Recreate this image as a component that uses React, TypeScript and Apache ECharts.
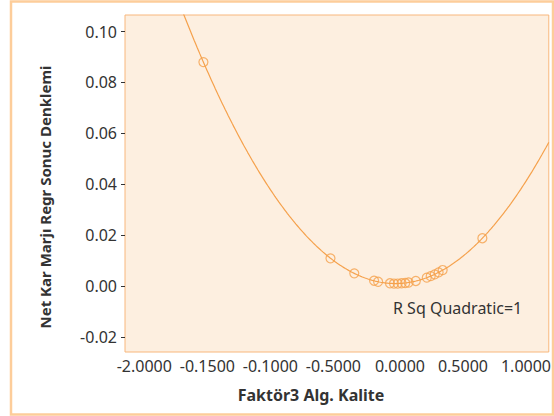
import React, { useEffect, useRef } from "react";
import * as echarts from "echarts";

// Scatter points
const factorX = [
  -1.559, -0.551, -0.362, -0.205, -0.173, -0.079, -0.047, -0.018, 0.013,
  0.042, 0.069, 0.126, 0.213, 0.244, 0.276, 0.307, 0.339, 0.654,
];
const netKarY = [
  0.088, 0.0109, 0.005, 0.0021, 0.0017, 0.0011, 0.001, 0.001, 0.0011,
  0.0012, 0.0014, 0.002, 0.0033, 0.0039, 0.0046, 0.0054, 0.0063, 0.0188,
];

const xTickValues = [-2, -1.5, -1, -0.5, 0, 0.5, 1];
const xTickLabels = ["-2.0000", "-0.1500", "-0.1000", "-0.5000", "0.0000", "0.5000", "1.0000"];

const X_MIN = -2.181;
const X_MAX = 1.181;
const Y_MIN = -0.0259;
const Y_MAX = 0.1065;

const fitText = "R Sq Quadratic=1";
const xTitle = "Faktör3 Alg. Kalite";
const yTitle = "Net Kar Marjı Regr Sonuc Denklemi";

// least-squares quadratic fit of the points
function quadFit(xs: number[], ys: number[]) {
  const n = xs.length;
  let s0 = n, s1 = 0, s2 = 0, s3 = 0, s4 = 0, t0 = 0, t1 = 0, t2 = 0;
  for (let i = 0; i < n; i++) {
    const x = xs[i], y = ys[i];
    s1 += x; s2 += x * x; s3 += x * x * x; s4 += x * x * x * x;
    t0 += y; t1 += x * y; t2 += x * x * y;
  }
  const M = [
    [s0, s1, s2, t0],
    [s1, s2, s3, t1],
    [s2, s3, s4, t2],
  ];
  for (let c = 0; c < 3; c++) {
    let p = c;
    for (let r = c + 1; r < 3; r++) if (Math.abs(M[r][c]) > Math.abs(M[p][c])) p = r;
    [M[c], M[p]] = [M[p], M[c]];
    for (let r = 0; r < 3; r++) {
      if (r === c) continue;
      const f = M[r][c] / M[c][c];
      for (let k = c; k < 4; k++) M[r][k] -= f * M[c][k];
    }
  }
  return [M[0][3] / M[0][0], M[1][3] / M[1][1], M[2][3] / M[2][2]];
}

const ORANGE = "#f5a14c";
const TEXT = "#333333";
const FONT = "'Noto Sans', 'DejaVu Sans', sans-serif";

export default function App() {
  const ref = useRef<HTMLDivElement>(null);
  useEffect(() => {
    if (!ref.current) return;
    const chart = echarts.init(ref.current, undefined, { renderer: "svg" });
    const [a, b, c] = quadFit(factorX, netKarY);
    const fitLine: number[][] = [];
    const steps = 300;
    for (let i = 0; i <= steps; i++) {
      const x = X_MIN + ((X_MAX - X_MIN) * i) / steps;
      fitLine.push([x, a + b * x + c * x * x]);
    }
    const points = factorX.map((x, i) => [x, netKarY[i]]);
    const labelMap: Record<string, string> = {};
    xTickValues.forEach((v, i) => (labelMap[v.toFixed(1)] = xTickLabels[i]));

    chart.setOption({
      animation: false,
      backgroundColor: "#ffffff",
      grid: {
        left: 125,
        top: 15,
        right: 2,
        bottom: 64,
        show: true,
        backgroundColor: "#fdefe0",
        borderColor: "#f8b77c",
        borderWidth: 1,
      },
      xAxis: {
        type: "value",
        min: X_MIN,
        max: X_MAX,
        splitNumber: 7,
        minInterval: 0.5,
        maxInterval: 0.5,
        axisLine: { show: false, onZero: false },
        axisTick: { show: false },
        splitLine: { show: false },
        axisLabel: {
          showMinLabel: false,
          showMaxLabel: false,
          margin: 6,
          color: TEXT,
          fontSize: 16,
          fontFamily: FONT,
          formatter: (v: number) => {
            const t = labelMap[v.toFixed(1)];
            if (t === undefined) return "";
            return v < 0 ? "{neg|" + t + "}" : t;
          },
          rich: {
            neg: { padding: [0, 7, 0, 0], color: TEXT, fontSize: 16, fontFamily: FONT },
          },
        },
      },
      yAxis: {
        type: "value",
        min: Y_MIN,
        max: Y_MAX,
        splitNumber: 6,
        minInterval: 0.02,
        maxInterval: 0.02,
        axisLine: { show: false, onZero: false },
        axisTick: { show: true, length: 4, lineStyle: { color: TEXT, width: 1 } },
        splitLine: { show: false },
        axisLabel: {
          showMinLabel: false,
          showMaxLabel: false,
          margin: 8,
          color: TEXT,
          fontSize: 16,
          fontFamily: FONT,
          formatter: (v: number) => (Math.abs(v) < 1e-9 ? 0 : v).toFixed(2),
        },
      },
      series: [
        {
          type: "line",
          data: fitLine,
          showSymbol: false,
          symbol: "none",
          lineStyle: { color: ORANGE, width: 1.2 },
          clip: true,
          z: 2,
        },
        {
          type: "scatter",
          data: points,
          symbol: "circle",
          symbolSize: 9,
          itemStyle: { color: "rgba(0,0,0,0)", borderColor: ORANGE, borderWidth: 1.2 },
          z: 3,
        },
      ],
      graphic: [
        {
          type: "rect",
          shape: { x: 11, y: 1.5, width: 542, height: 413 },
          style: { fill: "none", stroke: "#fdcd9a", lineWidth: 2.5 },
          silent: true,
          z: 100,
        },
        {
          type: "text",
          x: 393,
          y: 308,
          style: {
            text: fitText,
            fill: TEXT,
            font: "16px " + FONT,
            textAlign: "left",
            textVerticalAlign: "middle",
          },
        },
        {
          type: "text",
          x: 311,
          y: 395,
          style: {
            text: xTitle,
            fill: TEXT,
            font: "bold 16px " + FONT,
            textAlign: "center",
            textVerticalAlign: "middle",
          },
        },
        {
          type: "text",
          x: 45,
          y: 197,
          rotation: Math.PI / 2,
          style: {
            text: yTitle,
            fill: TEXT,
            font: "bold 15px " + FONT,
            textAlign: "center",
            textVerticalAlign: "middle",
          },
        },
      ],
    });
    return () => chart.dispose();
  }, []);
  return (
    <div
      ref={ref}
      style={{ position: "fixed", left: 0, top: 0, width: 554, height: 416 }}
    />
  );
}
